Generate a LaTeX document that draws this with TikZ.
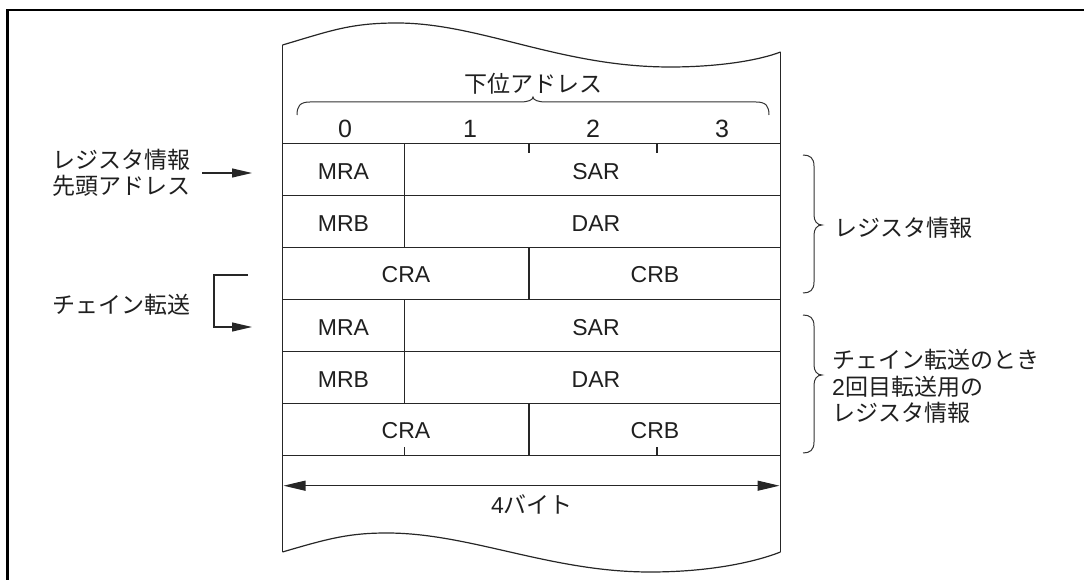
\documentclass[tikz,border=0pt]{standalone}
\usepackage{fontspec}
\setmainfont{Liberation Sans}
\newfontfamily\jp{Noto Sans CJK JP}
\usetikzlibrary{arrows.meta}
\begin{document}
\begin{tikzpicture}[x=1pt,y=-1pt,
  every node/.style={inner sep=0pt, font=\fontsize{23}{26.6}\selectfont, text=black!88},
  digit/.style={font=\fontsize{25}{28}\selectfont},
  ln/.style={line width=1.2pt, draw=black!85},
  arr/.style={ln, -{Triangle[length=20pt,width=9pt]}},
  dbl/.style={ln, {Triangle[length=22pt,width=10pt]}-{Triangle[length=22pt,width=10pt]}},
  brc/.style={line width=1pt, draw=black!80},
  frame/.style={line width=2.4pt, draw=black}]
\useasboundingbox (0,0) rectangle (1084,580);
% outer frame (cut at right and bottom)
\draw[frame] (7.3,590) -- (7.3,10) -- (1095,10);
% wavy outline
\draw[ln] (282.5,45) .. controls (330,31) and (350,23) .. (397,23)
  .. controls (480,23) and (560,67) .. (670,67)
  .. controls (720,67) and (760,60) .. (780.5,52);
\draw[ln] (282.5,552) .. controls (330,538) and (350,533) .. (387,533)
  .. controls (470,533) and (550,572) .. (650,572)
  .. controls (710,572) and (755,562) .. (780.5,552);
\draw[ln] (282.5,45) -- (282.5,552);
\draw[ln] (780.5,52) -- (780.5,552);
% rows
\foreach \y in {143.5,195.5,247.5,299.5,351.5,403.5,455.5}
  \draw[ln] (282.5,\y) -- (780.5,\y);
% column dividers
\foreach \t in {143.5,195.5,299.5,351.5}
  \draw[ln] (404.5,\t) -- (404.5,\t+52);
\foreach \t in {247.5,403.5}
  \draw[ln] (529,\t) -- (529,\t+52);
% ticks
\draw[ln] (529,143.5) -- (529,153);
\draw[ln] (657,143.5) -- (657,153);
\draw[ln] (404.5,447) -- (404.5,455.5);
\draw[ln] (657,447) -- (657,455.5);
% cell labels
\node (mra1) at (343.5,172) {MRA};
\node (sar1) at (596,172) {SAR};
\node (mrb1) at (343.5,224) {MRB};
\node (dar1) at (596,224) {DAR};
\node (cra1) at (406,275) {CRA};
\node (crb1) at (655,275) {CRB};
\node (mra2) at (343.5,328) {MRA};
\node (sar2) at (596,328) {SAR};
\node (mrb2) at (343.5,380) {MRB};
\node (dar2) at (596,380) {DAR};
\node (cra2) at (406,431) {CRA};
\node (crb2) at (655,431) {CRB};
% address header
\node (addr) at (533,83.5) {\jp 下位アドレス};
\draw[brc] (297,115) .. controls (297,106) and (300,102) .. (310,102) -- (520,102)
  .. controls (528,102) and (533,100) .. (533,97)
  .. controls (533,100) and (538,102) .. (546,102) -- (756,102)
  .. controls (766,102) and (769,106) .. (769,115);
\node[digit] (d0) at (345,129) {0};
\node[digit] (d1) at (470,129) {1};
\node[digit] (d2) at (593,129) {2};
\node[digit] (d3) at (722,129) {3};
% width arrow
\coordinate (wl) at (283.5,485.7);
\coordinate (wr) at (779.5,485.7);
\draw[dbl] (wl) -- (wr);
\node (bytes) at (532,504) {4{\jp バイト}};
% left labels and arrows
\node[anchor=west, align=left] (lab1) at (52,173) {\jp レジスタ情報\\\jp 先頭アドレス};
\coordinate (a1s) at (202,173);
\coordinate (a1e) at (252,173);
\draw[arr] (a1s) -- (a1e);
\node[anchor=west] (lab2) at (52,305) {\jp チェイン転送};
\coordinate (b1) at (248,275);
\coordinate (b2) at (214,275);
\coordinate (b3) at (214,327);
\coordinate (b4) at (252,327);
\draw[arr] (b1) -- (b2) -- (b3) -- (b4);
% right braces and labels
\draw[brc] (803,155) .. controls (810,155) and (814,158) .. (814,166) -- (814,215)
  .. controls (814,221) and (817,225) .. (822,225)
  .. controls (817,225) and (814,229) .. (814,235) -- (814,282)
  .. controls (814,290) and (810,293) .. (803,293);
\draw[brc] (803,315) .. controls (810,315) and (814,318) .. (814,326) -- (814,365)
  .. controls (814,371) and (817,375) .. (822,375)
  .. controls (817,375) and (814,379) .. (814,385) -- (814,442)
  .. controls (814,450) and (810,453) .. (803,453);
\node[anchor=west] (reg1) at (834,228) {\jp レジスタ情報};
\node[anchor=west, align=left] (reg2) at (832,386.5) {\jp チェイン転送のとき\\2{\jp 回目転送用の}\\\jp レジスタ情報};
\end{tikzpicture}
\end{document}
